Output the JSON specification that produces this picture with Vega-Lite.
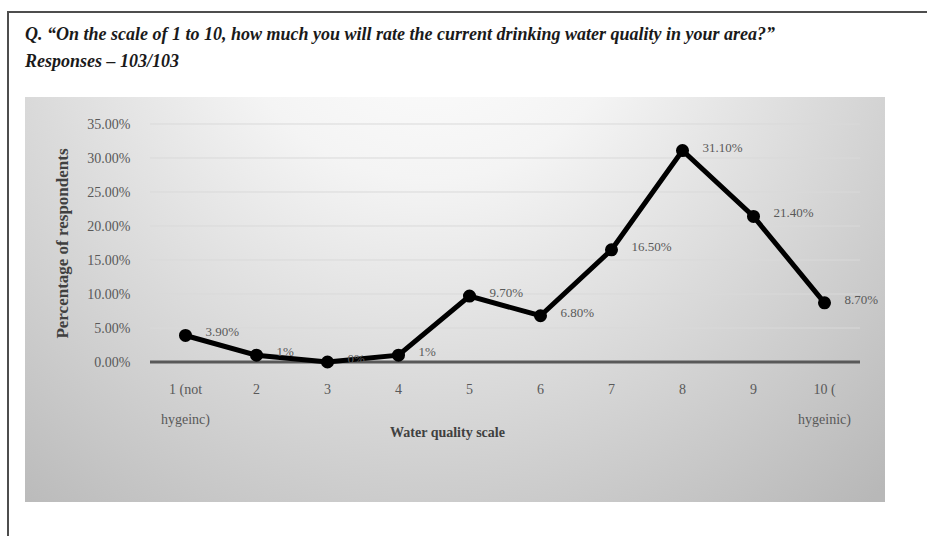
{
  "$schema": "https://vega.github.io/schema/vega-lite/v6.json",
  "autosize": "none",
  "width": 710,
  "height": 238,
  "padding": {"left": 150, "top": 124, "right": 67, "bottom": 174},
  "background": "white",
  "config": {
    "view": {"stroke": null},
    "font": "Liberation Serif"
  },
  "title": {
    "text": ["Q. “On the scale of 1 to 10, how much you will rate the current drinking water quality in your area?”", "Responses – 103/103"],
    "anchor": "start",
    "frame": "group",
    "font": "Liberation Serif",
    "fontSize": 18,
    "fontWeight": "bold",
    "fontStyle": "italic",
    "color": "#1a1a1a",
    "lineHeight": 27,
    "dx": -125,
    "offset": -60,
    "baseline": "top"
  },
  "datasets": {
    "ratings": [
      {"scale": "1 (not hygeinc)", "pct": 3.9, "label": "3.90%"},
      {"scale": "2", "pct": 1, "label": "1%"},
      {"scale": "3", "pct": 0, "label": "0%"},
      {"scale": "4", "pct": 1, "label": "1%"},
      {"scale": "5", "pct": 9.7, "label": "9.70%"},
      {"scale": "6", "pct": 6.8, "label": "6.80%"},
      {"scale": "7", "pct": 16.5, "label": "16.50%"},
      {"scale": "8", "pct": 31.1, "label": "31.10%"},
      {"scale": "9", "pct": 21.4, "label": "21.40%"},
      {"scale": "10 ( hygeinic)", "pct": 8.7, "label": "8.70%"}
    ],
    "gridlines": [
      {"v": 5}, {"v": 10}, {"v": 15}, {"v": 20}, {"v": 25}, {"v": 30}, {"v": 35}
    ]
  },
  "layer": [
    {
      "data": {"values": [{}]},
      "mark": {"type": "rect", "clip": false, "fill": null, "stroke": "#4d4d4d", "strokeWidth": 2},
      "encoding": {
        "x": {"value": -142},
        "x2": {"value": 800},
        "y": {"value": -112},
        "y2": {"value": 440}
      }
    },
    {
      "data": {"values": [{}]},
      "mark": {
        "type": "rect",
        "clip": false,
        "fill": {
          "gradient": "radial",
          "x1": 0.47, "y1": 0.12, "r1": 0,
          "x2": 0.47, "y2": 0.12, "r2": 0.8,
          "stops": [
            {"offset": 0, "color": "#ffffff"},
            {"offset": 0.3, "color": "#f4f4f4"},
            {"offset": 1, "color": "#b8b8b8"}
          ]
        }
      },
      "encoding": {
        "x": {"value": -125},
        "x2": {"value": 735},
        "y": {"value": -27},
        "y2": {"value": 378}
      }
    },
    {
      "data": {"name": "gridlines"},
      "mark": {"type": "rule", "color": "#d9d9d9", "strokeWidth": 1},
      "encoding": {
        "y": {
          "field": "v",
          "type": "quantitative",
          "scale": {"domain": [0, 35], "nice": false},
          "axis": {
            "zindex": 1,
            "title": "Percentage of respondents",
            "titleFont": "Liberation Serif",
            "titleFontSize": 17,
            "titleFontWeight": "bold",
            "titleColor": "#404040",
            "titleX": -88,
            "titleY": 119,
            "titleAngle": -90,
            "titleAlign": "center",
            "titleBaseline": "middle",
            "tickCount": 8,
            "format": ".2f",
            "labelExpr": "datum.label + '%'",
            "labelOverlap": false,
            "labelBound": false,
            "labelFlush": false,
            "labelFont": "Liberation Serif",
            "labelFontSize": 14,
            "labelColor": "#595959",
            "labelPadding": 20,
            "ticks": false,
            "domain": false,
            "grid": false
          }
        }
      }
    },
    {
      "data": {"values": [{}]},
      "mark": {"type": "rule", "color": "#595959", "strokeWidth": 3},
      "encoding": {
        "y": {"datum": 0, "type": "quantitative"}
      }
    },
    {
      "data": {"name": "ratings"},
      "layer": [
        {
          "mark": {"type": "line", "color": "#000000", "strokeWidth": 5},
          "encoding": {}
        },
        {
          "mark": {"type": "point", "filled": true, "color": "#000000", "opacity": 1, "size": 170},
          "encoding": {}
        },
        {
          "mark": {"type": "text", "align": "left", "baseline": "middle", "dx": 20, "dy": -3, "font": "Liberation Serif", "fontSize": 13, "color": "#595959"},
          "encoding": {"text": {"field": "label"}}
        }
      ],
      "encoding": {
        "x": {
          "field": "scale",
          "type": "ordinal",
          "sort": null,
          "scale": {"type": "band", "paddingInner": 0, "paddingOuter": 0},
          "axis": {
            "zindex": 1,
            "title": "Water quality scale",
            "titleFont": "Liberation Serif",
            "titleFontSize": 14,
            "titleFontWeight": "bold",
            "titleColor": "#404040",
            "titleX": 297,
            "titleY": 70,
            "titleAlign": "center",
            "titleBaseline": "middle",
            "labelAngle": 0,
            "labelFont": "Liberation Serif",
            "labelFontSize": 14,
            "labelColor": "#595959",
            "labelLineHeight": 30,
            "labelPadding": 20,
            "labelBaseline": "top",
            "labelExpr": "datum.label == '1 (not hygeinc)' ? ['1 (not', 'hygeinc)'] : datum.label == '10 ( hygeinic)' ? ['10 (', 'hygeinic)'] : datum.label",
            "ticks": false,
            "grid": false,
            "domain": false
          }
        },
        "y": {
          "field": "pct",
          "type": "quantitative"
        }
      }
    }
  ]
}
